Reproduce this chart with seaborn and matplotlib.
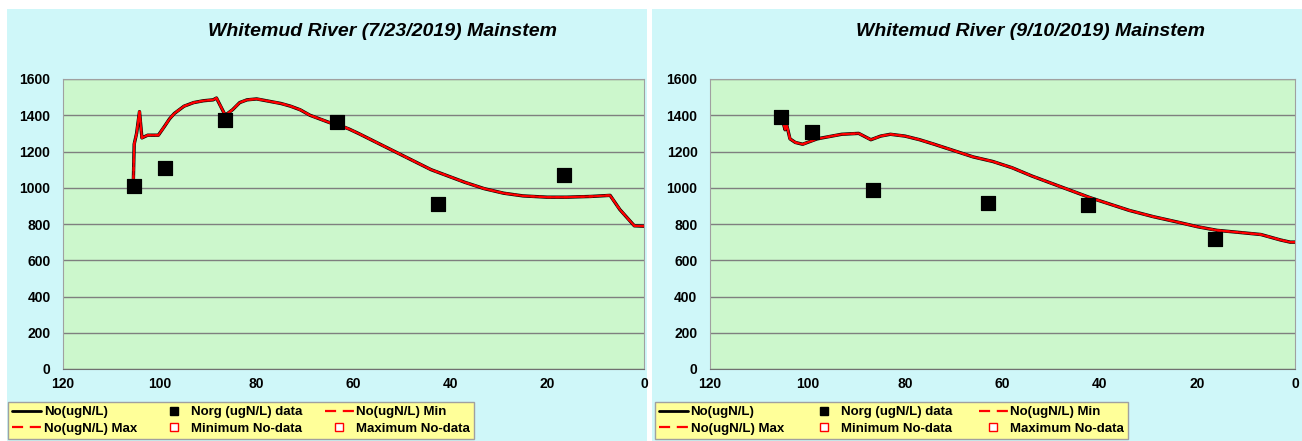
import numpy as np
import pandas as pd
import seaborn as sns
import matplotlib.pyplot as plt
from matplotlib.patches import Rectangle
from matplotlib.lines import Line2D

# Model run 7/23/2019 (distance km, No ugN/L)
km_jul = [105.5, 105.3, 104.8, 104.2, 103.7, 102.5, 101.0, 100.3, 99.0, 98.0, 97.0,
          95.0, 93.0, 91.0, 89.0, 88.3, 86.5, 85.0, 83.5, 82.0, 80.0, 78.0,
          75.0, 73.0, 71.0, 69.0, 67.0, 65.0, 63.0, 61.0, 59.0, 56.0, 53.0,
          50.0, 47.0, 44.0, 40.0, 37.0, 33.0, 29.0, 25.0, 20.0, 16.0, 11.0,
          7.0, 5.0, 2.0, 0.0]
no_jul = [1000, 1240, 1300, 1420, 1275, 1290, 1290, 1290, 1340, 1380, 1410,
          1450, 1470, 1480, 1485, 1495, 1400, 1430, 1470, 1485, 1490, 1480,
          1465, 1450, 1430, 1400, 1380, 1360, 1345, 1325, 1300, 1260, 1220,
          1180, 1140, 1100, 1060, 1030, 995, 970, 955, 948, 948, 952,
          958, 880, 790, 788]
obs_km_jul = [105.3, 99.0, 86.5, 63.5, 42.5, 16.5]
obs_jul = [1010, 1110, 1375, 1365, 910, 1070]

# Model run 9/10/2019
km_sep = [105.0, 104.6, 104.3, 103.6, 102.5, 101.0, 99.5, 98.0, 96.0, 93.0, 89.5,
          87.0, 85.0, 83.0, 80.0, 77.0, 74.0, 70.0, 66.0, 62.0, 58.0, 54.0,
          50.0, 46.0, 42.0, 38.0, 34.0, 29.0, 24.0, 20.0, 16.0, 12.0, 7.0,
          3.0, 1.0, 0.0]
no_sep = [1360, 1320, 1350, 1270, 1250, 1240, 1255, 1270, 1280, 1295, 1300,
          1265, 1285, 1295, 1285, 1265, 1240, 1205, 1170, 1145, 1110, 1065,
          1025, 985, 945, 910, 875, 840, 810, 785, 765, 755, 742,
          712, 700, 700]
obs_km_sep = [105.5, 99.0, 86.5, 63.0, 42.5, 16.5]
obs_sep = [1390, 1305, 985, 915, 905, 715]

titles = ['Whitemud River (7/23/2019) Mainstem', 'Whitemud River (9/10/2019) Mainstem']
legend_labels = ['No(ugN/L)', 'No(ugN/L) Max', 'Norg (ugN/L) data',
                 'Minimum No-data', 'No(ugN/L) Min', 'Maximum No-data']

sns.set_style('white')
plt.rcParams['font.family'] = ['Liberation Sans', 'DejaVu Sans']
plt.rcParams['text.color'] = 'black'
plt.rcParams['xtick.color'] = 'black'
plt.rcParams['ytick.color'] = 'black'

fig = plt.figure(figsize=(13.02, 4.41), dpi=100)
W, H = 1302, 441

# panel backgrounds
for x0, x1 in [(7, 647), (652, 1302)]:
    fig.patches.append(Rectangle((x0 / W, 0), (x1 - x0) / W, (H - 9) / H,
                                 transform=fig.transFigure, facecolor='#CFF7F9',
                                 edgecolor='none', zorder=-10))

panels = [
    (km_jul, no_jul, obs_km_jul, obs_jul, (63, 644), 383, (8, 474)),
    (km_sep, no_sep, obs_km_sep, obs_sep, (710, 1295), 1031, (655, 1128)),
]

for i, (km, no, okm, obs, (px0, px1), tx, (lx0, lx1)) in enumerate(panels):
    ax = fig.add_axes([px0 / W, (H - 369) / H, (px1 - px0) / W, 290 / H])
    ax.set_facecolor('#CCF7CC')
    df = pd.DataFrame({'km': km, 'No': no})
    dobs = pd.DataFrame({'km': okm, 'Norg': obs})

    sns.lineplot(data=df, x='km', y='No', ax=ax, color='black', lw=2.4,
                 estimator=None, sort=False, zorder=3)
    # Min / Max runs coincide with the base run
    ax.plot(df['km'], df['No'], color='red', lw=1.5, ls=(0, (6, 2)), zorder=4)
    ax.plot(df['km'], df['No'], color='red', lw=1.5, ls=(4, (6, 2)), zorder=4)
    sns.scatterplot(data=dobs, x='km', y='Norg', ax=ax, marker='s', s=115,
                    color='black', edgecolor='black', zorder=5)

    ax.set_xlim(120, 0)
    ax.set_ylim(0, 1600)
    ax.set_xticks(range(0, 121, 20))
    ax.set_yticks(range(0, 1601, 200))
    ax.yaxis.grid(True, color='#7F7F7F', lw=1)
    ax.xaxis.grid(False)
    ax.set_axisbelow(True)
    for s in ax.spines.values():
        s.set_color('#A0A0A0')
    ax.spines['bottom'].set_color('#707070')
    ax.tick_params(axis='both', labelsize=10, length=0)
    ax.tick_params(axis='y', pad=9)
    ax.tick_params(axis='x', pad=6)
    for lab in ax.get_xticklabels() + ax.get_yticklabels():
        lab.set_fontweight('bold')
    ax.set_xlabel('')
    ax.set_ylabel('')

    fig.text(tx / W, 1 - 32 / H, titles[i], ha='center', va='center',
             fontsize=14, fontweight='bold', fontstyle='italic')

    handles = [
        Line2D([], [], color='black', lw=2),
        Line2D([], [], color='red', lw=1.6, ls=(0, (5, 3))),
        Line2D([], [], color='black', marker='s', ls='none', ms=6),
        Line2D([], [], color='red', marker='s', ls='none', ms=6,
               markerfacecolor='white', markeredgewidth=1),
        Line2D([], [], color='red', lw=1.6, ls=(0, (5, 3))),
        Line2D([], [], color='red', marker='s', ls='none', ms=6,
               markerfacecolor='white', markeredgewidth=1),
    ]
    leg = fig.legend(handles, legend_labels, ncol=3,
                     bbox_to_anchor=(lx0 / W, 0, (lx1 - lx0) / W, 41 / H),
                     loc='center', mode='expand', frameon=True, fancybox=False,
                     fontsize=9.5, handlelength=2.2, handletextpad=0.2,
                     columnspacing=1.0, borderpad=0.3, labelspacing=0.35,
                     borderaxespad=0)
    leg.get_frame().set_facecolor('#FFFF99')
    leg.get_frame().set_edgecolor('#A0A0A0')
    leg.get_frame().set_alpha(1)
    for t in leg.get_texts():
        t.set_fontweight('bold')

fig.savefig('out.png', dpi=100)
